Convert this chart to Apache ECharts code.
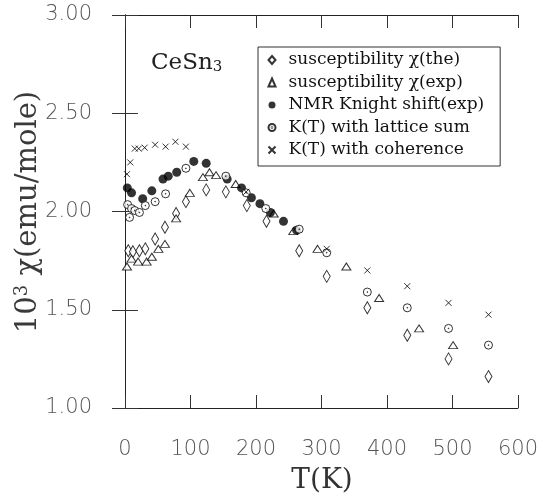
<!DOCTYPE html>
<html><head><meta charset="utf-8">
<script src="https://cdn.jsdelivr.net/npm/echarts@6/dist/echarts.min.js"></script>
<style>html,body{margin:0;padding:0;background:#fff}#c{width:541px;height:497px}</style>
</head><body><div id="c"></div>
<script>
// ---- data ----
const xTicks = [0, 100, 200, 300, 400, 500, 600];
const yTicks = ['1.00', '1.50', '2.00', '2.50', '3.00'];
const seriesNames = ['susceptibility \u03c7(the)', 'susceptibility \u03c7(exp)', 'NMR Knight shift(exp)', 'K(T) with lattice sum', 'K(T) with coherence'];

const theT = [5, 12, 22, 31, 46, 61, 78, 93, 124, 154, 186, 216, 266, 308, 370, 431, 494, 555];
const theV = [1.80, 1.795, 1.80, 1.81, 1.86, 1.92, 1.99, 2.05, 2.11, 2.10, 2.03, 1.95, 1.80, 1.67, 1.51, 1.37, 1.25, 1.16];

const expT = [3, 10, 20, 33, 41, 51, 61, 78, 99, 119, 129, 139, 169, 227, 257, 294, 338, 388, 449, 501];
const expV = [1.72, 1.76, 1.745, 1.745, 1.77, 1.81, 1.835, 1.965, 2.095, 2.175, 2.20, 2.185, 2.14, 1.99, 1.90, 1.81, 1.72, 1.56, 1.405, 1.32];

const nmrT = [3.5, 10, 27, 41, 58, 66, 79, 105, 124, 156, 178, 193, 206, 222, 242, 262];
const nmrV = [2.12, 2.095, 2.065, 2.105, 2.165, 2.18, 2.20, 2.255, 2.245, 2.165, 2.12, 2.07, 2.04, 1.995, 1.95, 1.905];

const latT = [4, 7, 10, 15, 22, 31, 46, 62, 93, 154, 185, 215, 266, 308, 370, 431, 494, 555];
const latV = [2.035, 1.97, 2.015, 2.005, 1.995, 2.03, 2.05, 2.09, 2.22, 2.18, 2.095, 2.015, 1.91, 1.79, 1.59, 1.51, 1.405, 1.32];

const cohT = [3, 8, 15, 21, 30, 46, 62, 77, 93, 185, 308, 370, 431, 494, 555];
const cohV = [2.19, 2.25, 2.32, 2.32, 2.325, 2.34, 2.33, 2.355, 2.33, 2.10, 1.81, 1.70, 1.62, 1.535, 1.475];

function pairs(xs, ys) { return xs.map((x, i) => [x, ys[i]]); }

const circleDot = 'path://M20,10A10,10,0,1,1,0,10A10,10,0,1,1,20,10ZM11,10A1,1,0,1,1,9,10A1,1,0,1,1,11,10Z';
const crossPath = 'path://M0,0L10,10M10,0L0,10';
const serif = 'DejaVu Serif';
const sans = 'DejaVu Sans';

const chart = echarts.init(document.getElementById('c'), null, {renderer: 'canvas'});
const axisCommon = {
  axisLine: {show: true, lineStyle: {color: '#222', width: 1}},
  axisTick: {show: true, inside: true, length: 13, lineStyle: {color: '#333', width: 1}},
  splitLine: {show: false}
};
chart.setOption({
  animation: false,
  backgroundColor: '#fff',
  grid: {left: 125, right: 23, top: 15, bottom: 89, containLabel: false},
  xAxis: [
    Object.assign({type: 'value', position: 'bottom', min: xTicks[0], max: xTicks[xTicks.length-1], interval: 100,
      axisLabel: {show: true, margin: 31, fontFamily: sans, fontWeight: 200, fontSize: 21, color: '#555',
        formatter: v => String(v)}}, axisCommon),
    Object.assign({type: 'value', position: 'top', min: 0, max: 600, interval: 100, axisLabel: {show: false}}, axisCommon)
  ],
  yAxis: [
    Object.assign({type: 'value', position: 'left', min: 1, max: 3, interval: 0.5,
      axisLabel: {show: true, margin: 33, fontFamily: sans, fontWeight: 200, fontSize: 21, color: '#555',
        formatter: v => yTicks[Math.round((v - 1) / 0.5)]}}, axisCommon),
    Object.assign({type: 'value', position: 'right', min: 1, max: 3, interval: 0.5, axisLabel: {show: false}}, axisCommon)
  ],
  legend: {
    orient: 'vertical', left: 258, top: 47,
    data: seriesNames,
    itemWidth: 7, itemHeight: 8, itemGap: 4.5,
    padding: [4, 16, 7, 8],
    borderColor: '#333', borderWidth: 1,
    textStyle: {fontFamily: serif, fontSize: 17, color: '#111', lineHeight: 18, padding: [0, 0, 0, 8]},
    selectedMode: false
  },
  graphic: [
    {type: 'text', left: 151, top: 52, style: {text: 'CeSn{s|3}', fontFamily: serif, fontSize: 23, fill: '#222',
      rich: {s: {fontFamily: serif, fontSize: 15, verticalAlign: 'bottom', padding: [7, 0, 0, 0]}}}},
    {type: 'text', x: 322, y: 481, style: {text: 'T(K)', fontFamily: serif, fontSize: 28, fill: '#333', align: 'center', verticalAlign: 'middle'}},
    {type: 'text', x: 28, y: 212, rotation: Math.PI / 2,
      style: {text: '10{p|3} \u03c7(emu/mole)', fontFamily: serif, fontSize: 29, fill: '#3a3a3a', align: 'center', verticalAlign: 'middle',
        rich: {p: {fontFamily: serif, fontSize: 18, verticalAlign: 'top', padding: [0, 0, 10, 0]}}}}
  ],
  series: [
    {name: seriesNames[0], type: 'scatter', data: pairs(theT, theV), symbol: 'diamond', symbolSize: [7, 12],
      itemStyle: {color: '#fff', borderColor: '#000', borderWidth: 1}, z: 2},
    {name: seriesNames[1], type: 'scatter', data: pairs(expT, expV), symbol: 'triangle', symbolSize: [9, 7],
      itemStyle: {color: '#fff', borderColor: '#000', borderWidth: 1}, z: 3},
    {name: seriesNames[2], type: 'scatter', data: pairs(nmrT, nmrV), symbol: 'circle', symbolSize: 9,
      itemStyle: {color: '#000', borderColor: '#000', borderWidth: 0}, z: 4},
    {name: seriesNames[3], type: 'scatter', data: pairs(latT, latV), symbol: circleDot, symbolSize: 8,
      itemStyle: {color: '#fff', borderColor: '#000', borderWidth: 1}, z: 5},
    {name: seriesNames[4], type: 'scatter', data: pairs(cohT, cohV), symbol: crossPath, symbolSize: 6,
      itemStyle: {color: 'none', borderColor: '#000', borderWidth: 1}, z: 6}
  ]
});
</script></body></html>
